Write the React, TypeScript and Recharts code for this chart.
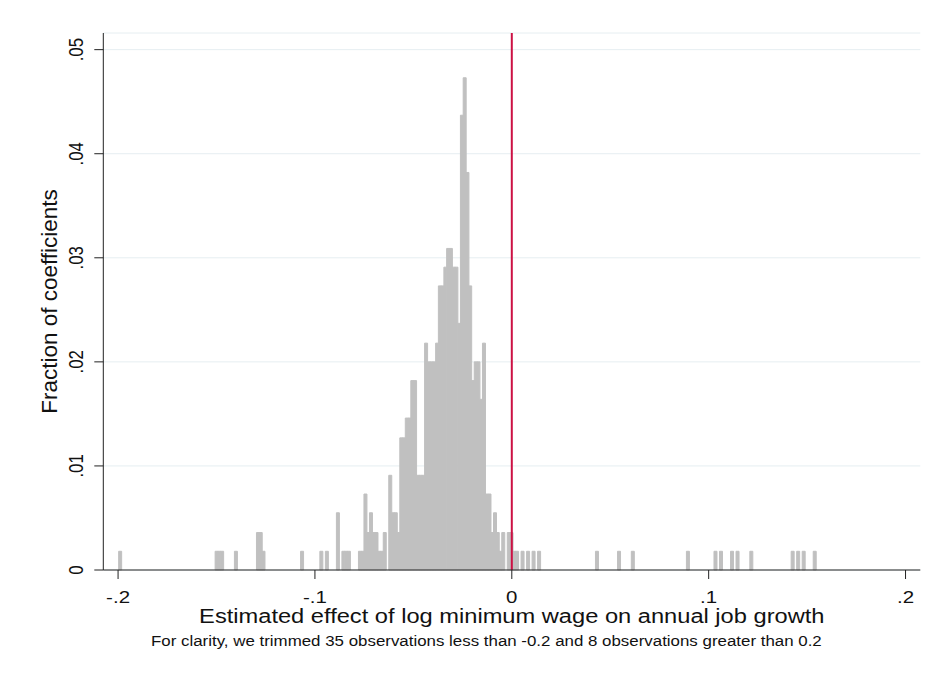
import { BarChart, Bar, XAxis, YAxis, CartesianGrid, ReferenceLine } from "recharts";

// histogram bins: bin midpoint and share of coefficients
const binMid = [
  -0.199, -0.15, -0.1486, -0.1472, -0.1402, -0.129, -0.1276, -0.1262, -0.1066, -0.0968,
  -0.094, -0.0884, -0.0856, -0.0842, -0.0828, -0.0772, -0.0758, -0.0744, -0.073, -0.0716,
  -0.0702, -0.0688, -0.0674, -0.066, -0.0646, -0.0618, -0.0604, -0.059, -0.0576, -0.0562,
  -0.0548, -0.0534, -0.052, -0.0506, -0.0492, -0.0478, -0.0464, -0.045, -0.0436, -0.0422,
  -0.0408, -0.0394, -0.038, -0.0366, -0.0352, -0.0338, -0.0324, -0.031, -0.0296, -0.0282,
  -0.0268, -0.0254, -0.024, -0.0226, -0.0212, -0.0198, -0.0184, -0.017, -0.0156, -0.0142,
  -0.0128, -0.0114, -0.01, -0.0086, -0.0072, -0.0058, -0.0044, -0.0016, -0.0002, 0.0012,
  0.0026, 0.0054, 0.0082, 0.011, 0.0138, 0.0432, 0.0544, 0.0614, 0.0894, 0.1034,
  0.1062, 0.1118, 0.1146, 0.1216, 0.1426, 0.1454, 0.1482, 0.1538,
];

const binShare = [
  0.0018, 0.0018, 0.0018, 0.0018, 0.0018, 0.0036, 0.0036, 0.0018, 0.0018, 0.0018,
  0.0018, 0.0055, 0.0018, 0.0018, 0.0018, 0.0018, 0.0018, 0.0073, 0.0036, 0.0055,
  0.0036, 0.0036, 0.0018, 0.0018, 0.0036, 0.0091, 0.0055, 0.0055, 0.0036, 0.0127,
  0.0127, 0.0146, 0.0146, 0.0182, 0.0182, 0.0091, 0.0091, 0.0091, 0.0218, 0.02,
  0.02, 0.02, 0.0218, 0.0273, 0.0273, 0.0291, 0.0309, 0.0309, 0.0291, 0.0291,
  0.0237, 0.0437, 0.0473, 0.0382, 0.0273, 0.0182, 0.02, 0.02, 0.0164, 0.0218,
  0.0073, 0.0073, 0.0036, 0.0055, 0.0036, 0.0018, 0.0036, 0.0036, 0.0036, 0.0018,
  0.0018, 0.0018, 0.0018, 0.0018, 0.0018, 0.0018, 0.0018, 0.0018, 0.0018, 0.0018,
  0.0018, 0.0018, 0.0018, 0.0018, 0.0018, 0.0018, 0.0018, 0.0018,
];

const xTicks = [-0.2, -0.1, 0, 0.1, 0.2];
const xTickLabels = ["-.2", "-.1", "0", ".1", ".2"];
const yTicks = [0, 0.01, 0.02, 0.03, 0.04, 0.05];
const yTickLabels = ["0", ".01", ".02", ".03", ".04", ".05"];

const xTitle = "Estimated effect of log minimum wage on annual job growth";
const yTitle = "Fraction of coefficients";
const note =
  "For clarity, we trimmed 35 observations less than -0.2 and 8 observations greater than 0.2";

const FONT = "'Liberation Sans', Arial, Helvetica, sans-serif";
// the source image is stretched sideways, so text is widened to match
const WIDE = 1.22;

const labelFor = (ticks: number[], labels: string[], v: number) => {
  const i = ticks.findIndex((t) => Math.abs(t - v) < 1e-9);
  return i >= 0 ? labels[i] : "";
};

function XTick(props: any) {
  const { x, y, payload } = props;
  return (
    <g transform={`translate(${x},${y + 21.5}) scale(${WIDE},1)`}>
      <text textAnchor="middle" fontSize={16.8} fill="#111" fontFamily={FONT}>
        {labelFor(xTicks, xTickLabels, payload.value)}
      </text>
    </g>
  );
}

function YTick(props: any) {
  const { x, y, payload } = props;
  return (
    <g transform={`translate(${x - 9.3},${y}) scale(${WIDE},1) rotate(-90)`}>
      <text textAnchor="middle" fontSize={16.8} fill="#111" fontFamily={FONT}>
        {labelFor(yTicks, yTickLabels, payload.value)}
      </text>
    </g>
  );
}

function App() {
  const data = binMid.map((mid, i) => ({ mid, share: binShare[i] }));

  return (
    <div style={{ position: "relative", width: 926, height: 675 }}>
      <BarChart
        width={926}
        height={675}
        data={data}
        margin={{ top: 25, right: 13.7, bottom: 0, left: 0 }}
        barCategoryGap={0}
        barGap={0}
      >
        <CartesianGrid vertical={false} stroke="#e6eef1" />
        <XAxis
          dataKey="mid"
          type="number"
          domain={[-0.2075, 0.2075]}
          ticks={xTicks}
          interval={0}
          tick={<XTick />}
          tickSize={9}
          height={113}
          axisLine={{ stroke: "#222" }}
          tickLine={{ stroke: "#222" }}
        />
        <YAxis
          type="number"
          domain={[0, 0.0516]}
          ticks={yTicks}
          interval={0}
          tick={<YTick />}
          tickSize={9}
          width={95.3}
          axisLine={{ stroke: "#222" }}
          tickLine={{ stroke: "#222" }}
        />
        <Bar
          dataKey="share"
          fill="#c0c0c0"
          stroke="#c0c0c0"
          strokeWidth={1}
          isAnimationActive={false}
        />
        <ReferenceLine x={0} stroke="#cc1144" strokeWidth={2} />
      </BarChart>

      <svg
        width={926}
        height={675}
        style={{ position: "absolute", left: 0, top: 0, pointerEvents: "none" }}
      >
        <g transform={`translate(503.8,615) scale(${WIDE},1)`}>
          <text textAnchor="middle" fontSize={19.4} fill="#111" fontFamily={FONT}>
            {xTitle}
          </text>
        </g>
        <g transform="translate(49,293.5) rotate(-90)">
          <text textAnchor="middle" fontSize={22.5} fill="#111" fontFamily={FONT}>
            {yTitle}
          </text>
        </g>
        <g transform={`translate(143,638) scale(${WIDE},1)`}>
          <text fontSize={13.85} fill="#111" fontFamily={FONT}>
            {note}
          </text>
        </g>
      </svg>
    </div>
  );
}

export default App;
